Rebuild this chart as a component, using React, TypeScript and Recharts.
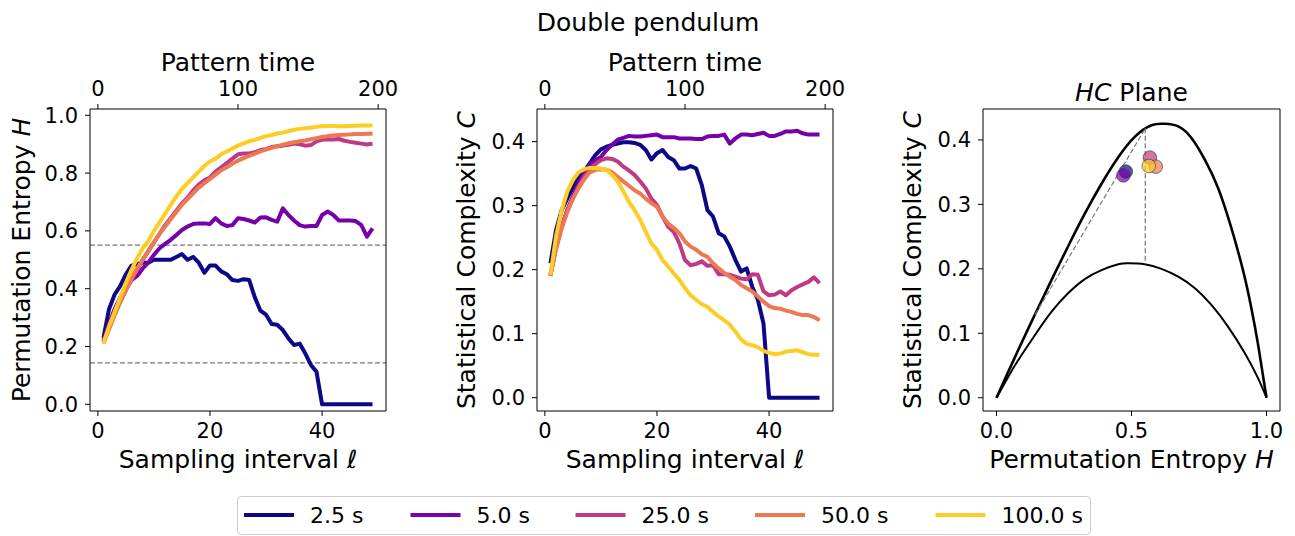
import React from 'react';
import { ComposedChart, Line, Scatter, XAxis, YAxis, ReferenceLine } from 'recharts';

// sampling interval l (1..49)
const lags = [
  1, 2, 3, 4, 5, 6, 7, 8, 9, 10, 11, 12, 13, 14, 15, 16, 17, 18, 19, 20, 21, 22, 23, 24, 25,
  26, 27, 28, 29, 30, 31, 32, 33, 34, 35, 36, 37, 38, 39, 40, 41, 42, 43, 44, 45, 46, 47, 48, 49,
];

const durations = ['2.5 s', '5.0 s', '25.0 s', '50.0 s', '100.0 s'];
const colors = ['#0d0887', '#7501a8', '#c03a83', '#ed7953', '#fcce25'];

// permutation entropy H per duration
const entropy2_5 = [
  0.23, 0.33, 0.38, 0.41, 0.45, 0.48, 0.485, 0.49, 0.49, 0.5, 0.5, 0.5, 0.5, 0.51, 0.52, 0.5, 0.51,
  0.49, 0.455, 0.48, 0.48, 0.46, 0.45, 0.43, 0.427, 0.433, 0.43, 0.37, 0.324, 0.31, 0.278, 0.275,
  0.257, 0.228, 0.205, 0.21, 0.176, 0.136, 0.113, 0, 0, 0, 0, 0, 0, 0, 0, 0, 0,
];
const entropy5 = [
  0.217, 0.28, 0.33, 0.37, 0.4, 0.43, 0.444, 0.47, 0.49, 0.517, 0.54, 0.555, 0.569, 0.586, 0.603,
  0.615, 0.624, 0.626, 0.626, 0.624, 0.644, 0.626, 0.617, 0.62, 0.644, 0.641, 0.636, 0.629, 0.646,
  0.647, 0.638, 0.632, 0.678, 0.655, 0.636, 0.62, 0.615, 0.617, 0.617, 0.655, 0.667, 0.655, 0.636,
  0.636, 0.636, 0.634, 0.62, 0.58, 0.609,
];
const entropy25 = [
  0.22, 0.265, 0.31, 0.355, 0.395, 0.43, 0.465, 0.5, 0.53, 0.56, 0.59, 0.62, 0.645, 0.67, 0.695,
  0.715, 0.74, 0.76, 0.775, 0.785, 0.805, 0.82, 0.835, 0.85, 0.865, 0.868, 0.868, 0.872, 0.88, 0.883,
  0.89, 0.893, 0.895, 0.898, 0.902, 0.9, 0.895, 0.897, 0.91, 0.915, 0.917, 0.916, 0.918, 0.912,
  0.908, 0.905, 0.902, 0.899, 0.902,
];
const entropy50 = [
  0.21, 0.26, 0.31, 0.355, 0.395, 0.435, 0.47, 0.5, 0.53, 0.56, 0.59, 0.615, 0.64, 0.665, 0.69, 0.71,
  0.73, 0.75, 0.765, 0.78, 0.795, 0.81, 0.82, 0.833, 0.843, 0.852, 0.86, 0.867, 0.875, 0.881, 0.887,
  0.893, 0.898, 0.903, 0.907, 0.91, 0.913, 0.917, 0.921, 0.925, 0.928, 0.93, 0.932, 0.933, 0.934,
  0.935, 0.935, 0.936, 0.936,
];
const entropy100 = [
  0.21, 0.27, 0.32, 0.37, 0.42, 0.465, 0.505, 0.54, 0.565, 0.6, 0.63, 0.66, 0.69, 0.72, 0.745, 0.765,
  0.785, 0.805, 0.825, 0.84, 0.85, 0.865, 0.875, 0.885, 0.895, 0.903, 0.91, 0.915, 0.922, 0.928,
  0.932, 0.937, 0.94, 0.945, 0.95, 0.953, 0.955, 0.957, 0.96, 0.962, 0.963, 0.963, 0.962, 0.962,
  0.963, 0.964, 0.965, 0.965, 0.965,
];

// statistical complexity C per duration
const complexity2_5 = [
  0.21, 0.262, 0.293, 0.311, 0.329, 0.346, 0.353, 0.366, 0.379, 0.388, 0.392, 0.395, 0.397, 0.399,
  0.399, 0.398, 0.395, 0.387, 0.372, 0.382, 0.387, 0.376, 0.371, 0.358, 0.358, 0.362, 0.358, 0.332,
  0.293, 0.283, 0.257, 0.252, 0.236, 0.215, 0.197, 0.202, 0.173, 0.153, 0.116, 0, 0, 0, 0, 0, 0, 0,
  0, 0, 0,
];
const complexity5 = [
  0.192, 0.236, 0.267, 0.293, 0.314, 0.335, 0.35, 0.364, 0.371, 0.376, 0.387, 0.395, 0.403, 0.406,
  0.409, 0.408, 0.408, 0.409, 0.41, 0.411, 0.407, 0.407, 0.407, 0.405, 0.405, 0.405, 0.404, 0.404,
  0.408, 0.409, 0.409, 0.411, 0.397, 0.405, 0.411, 0.411, 0.41, 0.412, 0.414, 0.409, 0.409, 0.412,
  0.416, 0.416, 0.417, 0.413, 0.411, 0.411, 0.411,
];
const complexity25 = [
  0.192, 0.236, 0.267, 0.293, 0.311, 0.33, 0.345, 0.357, 0.365, 0.371, 0.374, 0.373, 0.369, 0.361,
  0.355, 0.348, 0.338, 0.327, 0.311, 0.301, 0.283, 0.267, 0.259, 0.241, 0.215, 0.207, 0.209, 0.213,
  0.206, 0.207, 0.193, 0.193, 0.192, 0.189, 0.186, 0.185, 0.193, 0.192, 0.166, 0.16, 0.161, 0.166,
  0.16, 0.168, 0.173, 0.177, 0.181, 0.188, 0.179,
];
const complexity50 = [
  0.19, 0.232, 0.264, 0.29, 0.311, 0.327, 0.341, 0.352, 0.356, 0.357, 0.356, 0.352, 0.345, 0.338,
  0.331, 0.324, 0.319, 0.311, 0.304, 0.298, 0.283, 0.272, 0.265, 0.257, 0.244, 0.236, 0.231, 0.224,
  0.22, 0.21, 0.202, 0.195, 0.189, 0.184, 0.176, 0.171, 0.166, 0.158, 0.15, 0.143, 0.14, 0.139,
  0.136, 0.134, 0.131, 0.129, 0.129, 0.126, 0.121,
];
const complexity100 = [
  0.192, 0.252, 0.293, 0.322, 0.34, 0.352, 0.357, 0.359, 0.359, 0.358, 0.356, 0.348, 0.338, 0.322,
  0.306, 0.293, 0.278, 0.259, 0.241, 0.231, 0.215, 0.205, 0.194, 0.184, 0.171, 0.16, 0.153, 0.146,
  0.142, 0.134, 0.127, 0.121, 0.114, 0.103, 0.091, 0.084, 0.082, 0.079, 0.073, 0.07, 0.068, 0.069,
  0.072, 0.073, 0.074, 0.071, 0.068, 0.067, 0.067,
];

// HC plane: boundary curves
const cmaxH = [0, 0.04, 0.08, 0.142, 0.204, 0.265, 0.327, 0.389, 0.451, 0.512, 0.574, 0.623, 0.673, 0.722, 0.772, 0.821, 0.87, 0.914, 0.944, 0.969, 1];
const cmaxC = [0, 0.037, 0.0736, 0.1288, 0.1828, 0.2347, 0.2855, 0.332, 0.373, 0.4047, 0.4227, 0.425, 0.421, 0.403, 0.369, 0.325, 0.263, 0.196, 0.139, 0.082, 0];
const cminH = [0, 0.04, 0.08, 0.142, 0.204, 0.265, 0.327, 0.389, 0.451, 0.488, 0.549, 0.611, 0.673, 0.735, 0.796, 0.858, 0.92, 0.969, 1];
const cminC = [0, 0.03, 0.058, 0.097, 0.1335, 0.162, 0.184, 0.198, 0.207, 0.2085, 0.207, 0.2, 0.188, 0.17, 0.144, 0.11, 0.069, 0.03, 0];

// HC plane: position per duration
const planeH = [0.479, 0.47, 0.568, 0.59, 0.564];
const planeC = [0.351, 0.345, 0.3726, 0.3586, 0.3596];

// entropy thresholds (dashed)
const thresholdH = [0.143, 0.551];
const thresholdCmax = [0.129, 0.418];
const thresholdCmin = 0.207;

// ticks
const lagTicks = [0, 20, 40];
const patternTimeTicks = [0, 100, 200];
const patternPerLag = 4;
const entropyTicks = [0, 0.2, 0.4, 0.6, 0.8, 1.0];
const complexityTicks = [0, 0.1, 0.2, 0.3, 0.4];
const planeTicks = [0, 0.5, 1.0];

const entropySeries = [entropy2_5, entropy5, entropy25, entropy50, entropy100];
const complexitySeries = [complexity2_5, complexity5, complexity25, complexity50, complexity100];
const keys = ['s0', 's1', 's2', 's3', 's4'];

const toRows = (series: number[][]) =>
  lags.map((l, i) => {
    const row: Record<string, number> = { l };
    series.forEach((s, k) => (row[keys[k]] = s[i]));
    return row;
  });

const entropyRows = toRows(entropySeries);
const complexityRows = toRows(complexitySeries);
const cmaxRows = cmaxH.map((h, i) => ({ h, c: cmaxC[i] }));
const cminRows = cminH.map((h, i) => ({ h, c: cminC[i] }));
const diagRows = thresholdH.map((h, i) => ({ h, c: thresholdCmax[i] }));
const vertRows = [
  { h: thresholdH[1], c: thresholdCmax[1] },
  { h: thresholdH[1], c: thresholdCmin },
];

const PLOT_W = 296;
const PLOT_H = 302;
const PLOT_TOP = 109;
const AX_W = 80;
const AX_H = 40;
const PAD_R = 30;

const tickStyle = { fontSize: 21, fill: '#000' };
const black = { stroke: '#000', strokeWidth: 1 };
const dashed = { stroke: '#777', strokeWidth: 1.2, strokeDasharray: '5 2.5' };

const lagDomain: [number, number] = [-1.4, 51.4];
const entropyDomain: [number, number] = [-0.0232, 1.0218];
const complexityDomain: [number, number] = [-0.0208, 0.451];

const LagPanel = ({ rows, left, yDomain, yTicks, thresholds }: any) => (
  <div style={{ position: 'absolute', left: left - AX_W, top: PLOT_TOP - AX_H }}>
    <ComposedChart
      width={AX_W + PLOT_W + 1 + PAD_R}
      height={AX_H + PLOT_H + AX_H}
      data={rows}
      margin={{ top: 0, right: PAD_R, bottom: 0, left: 0 }}
    >
      <XAxis
        xAxisId="b"
        type="number"
        dataKey="l"
        domain={lagDomain}
        allowDataOverflow
        ticks={lagTicks}
        interval={0}
        height={AX_H}
        tickSize={5}
        tickMargin={7}
        tick={tickStyle}
        tickLine={black}
        axisLine={black}
      />
      <XAxis
        xAxisId="t"
        orientation="top"
        type="number"
        dataKey="l"
        domain={lagDomain}
        allowDataOverflow
        ticks={patternTimeTicks.map((t) => t / patternPerLag)}
        tickFormatter={(v: number) => String(Math.round(v * patternPerLag))}
        interval={0}
        height={AX_H}
        tickSize={5}
        tickMargin={8}
        tick={tickStyle}
        tickLine={black}
        axisLine={black}
      />
      <YAxis
        yAxisId="l"
        type="number"
        domain={yDomain}
        allowDataOverflow
        ticks={yTicks}
        interval={0}
        tickFormatter={(v: number) => v.toFixed(1)}
        width={AX_W}
        tickSize={5}
        tickMargin={7}
        tick={tickStyle}
        tickLine={black}
        axisLine={black}
      />
      <YAxis yAxisId="r" orientation="right" width={1} domain={[0, 1]} tick={false} tickLine={false} axisLine={black} />
      {(thresholds || []).map((h: number) => (
        <ReferenceLine key={h} xAxisId="b" yAxisId="l" y={h} {...dashed} />
      ))}
      {keys.map((k, i) => (
        <Line
          key={k}
          xAxisId="b"
          yAxisId="l"
          type="linear"
          dataKey={k}
          stroke={colors[i]}
          strokeWidth={4}
          strokeLinejoin="round"
          dot={false}
          activeDot={false}
          isAnimationActive={false}
        />
      ))}
    </ComposedChart>
  </div>
);

const PlanePanel = ({ left }: { left: number }) => (
  <div style={{ position: 'absolute', left: left - AX_W, top: PLOT_TOP - AX_H }}>
    <ComposedChart
      width={AX_W + PLOT_W + 1 + 1 + 10}
      height={AX_H + PLOT_H + AX_H}
      margin={{ top: 0, right: 10, bottom: 0, left: 0 }}
    >
      <XAxis
        xAxisId="b"
        type="number"
        dataKey="h"
        domain={[-0.05, 1.05]}
        allowDataOverflow
        ticks={planeTicks}
        interval={0}
        tickFormatter={(v: number) => v.toFixed(1)}
        height={AX_H}
        tickSize={5}
        tickMargin={7}
        tick={tickStyle}
        tickLine={black}
        axisLine={black}
      />
      <XAxis xAxisId="t" orientation="top" type="number" dataKey="h" domain={[-0.05, 1.05]} height={AX_H} tick={false} tickLine={false} axisLine={black} />
      <YAxis
        yAxisId="l"
        type="number"
        dataKey="c"
        domain={[-0.0206, 0.448]}
        allowDataOverflow
        ticks={complexityTicks}
        interval={0}
        tickFormatter={(v: number) => v.toFixed(1)}
        width={AX_W}
        tickSize={5}
        tickMargin={7}
        tick={tickStyle}
        tickLine={black}
        axisLine={black}
      />
      <YAxis yAxisId="r" orientation="right" width={1} domain={[0, 1]} tick={false} tickLine={false} axisLine={black} />
      <Line xAxisId="b" yAxisId="l" data={cmaxRows} dataKey="c" type="natural" stroke="#000" strokeWidth={2.6} dot={false} activeDot={false} isAnimationActive={false} />
      <Line xAxisId="b" yAxisId="l" data={cminRows} dataKey="c" type="natural" stroke="#000" strokeWidth={2} dot={false} activeDot={false} isAnimationActive={false} />
      <Line xAxisId="b" yAxisId="l" data={diagRows} dataKey="c" type="linear" {...dashed} dot={false} activeDot={false} isAnimationActive={false} />
      <Line xAxisId="b" yAxisId="l" data={vertRows} dataKey="c" type="linear" {...dashed} dot={false} activeDot={false} isAnimationActive={false} />
      {planeH.map((h, i) => (
        <Scatter
          key={durations[i]}
          xAxisId="b"
          yAxisId="l"
          data={[{ h, c: planeC[i] }]}
          dataKey="c"
          isAnimationActive={false}
          shape={(p: any) => (
            <circle cx={p.cx} cy={p.cy} r={6.8} fill={colors[i]} fillOpacity={0.7} stroke="#444" strokeOpacity={0.7} strokeWidth={1} />
          )}
        />
      ))}
    </ComposedChart>
  </div>
);

const LEFT_X = 90;
const MID_X = 537;
const RIGHT_X = 983;
const legendX = [244, 410.5, 575.5, 755, 935.5];

export default function App() {
  const cx = (x: number) => x + PLOT_W / 2;
  const midY = PLOT_TOP + PLOT_H / 2;
  return (
    <div
      style={{
        position: 'relative',
        width: 1295,
        height: 536,
        background: '#fff',
        fontFamily: "'DejaVu Sans', sans-serif",
        overflow: 'hidden',
      }}
    >
      <style>{'body{margin:0}'}</style>
      <LagPanel rows={entropyRows} left={LEFT_X} yDomain={entropyDomain} yTicks={entropyTicks} thresholds={thresholdH} />
      <LagPanel rows={complexityRows} left={MID_X} yDomain={complexityDomain} yTicks={complexityTicks} />
      <PlanePanel left={RIGHT_X} />

      <svg width={1295} height={536} style={{ position: 'absolute', left: 0, top: 0, pointerEvents: 'none' }}>
        <text x={648} y={31} fontSize={25} textAnchor="middle">Double pendulum</text>

        <text x={cx(LEFT_X)} y={71} fontSize={25} textAnchor="middle">Pattern time</text>
        <text x={cx(MID_X)} y={71} fontSize={25} textAnchor="middle">Pattern time</text>
        <text x={RIGHT_X + 148.5} y={101} fontSize={25} textAnchor="middle">
          <tspan fontStyle="italic">HC</tspan> Plane
        </text>

        <text x={cx(LEFT_X)} y={468} fontSize={25} textAnchor="middle">
          Sampling interval <tspan fontStyle="italic">ℓ</tspan>
        </text>
        <text x={cx(MID_X)} y={468} fontSize={25} textAnchor="middle">
          Sampling interval <tspan fontStyle="italic">ℓ</tspan>
        </text>
        <text x={RIGHT_X + 148.5} y={468} fontSize={25} textAnchor="middle">
          Permutation Entropy <tspan fontStyle="italic">H</tspan>
        </text>

        <text transform={`translate(30 ${midY}) rotate(-90)`} fontSize={25} textAnchor="middle">
          Permutation Entropy <tspan fontStyle="italic">H</tspan>
        </text>
        <text transform={`translate(475 ${midY}) rotate(-90)`} fontSize={25} textAnchor="middle">
          Statistical Complexity <tspan fontStyle="italic">C</tspan>
        </text>
        <text transform={`translate(921 ${midY}) rotate(-90)`} fontSize={25} textAnchor="middle">
          Statistical Complexity <tspan fontStyle="italic">C</tspan>
        </text>

        <rect x={237.5} y={496.5} width={853} height={38} rx={4} fill="#fff" stroke="#cccccc" strokeWidth={1} />
        {durations.map((d, i) => (
          <g key={d}>
            <line x1={legendX[i]} x2={legendX[i] + 50} y1={515} y2={515} stroke={colors[i]} strokeWidth={4} />
            <text x={legendX[i] + 66} y={523} fontSize={22}>{d}</text>
          </g>
        ))}
      </svg>
    </div>
  );
}
